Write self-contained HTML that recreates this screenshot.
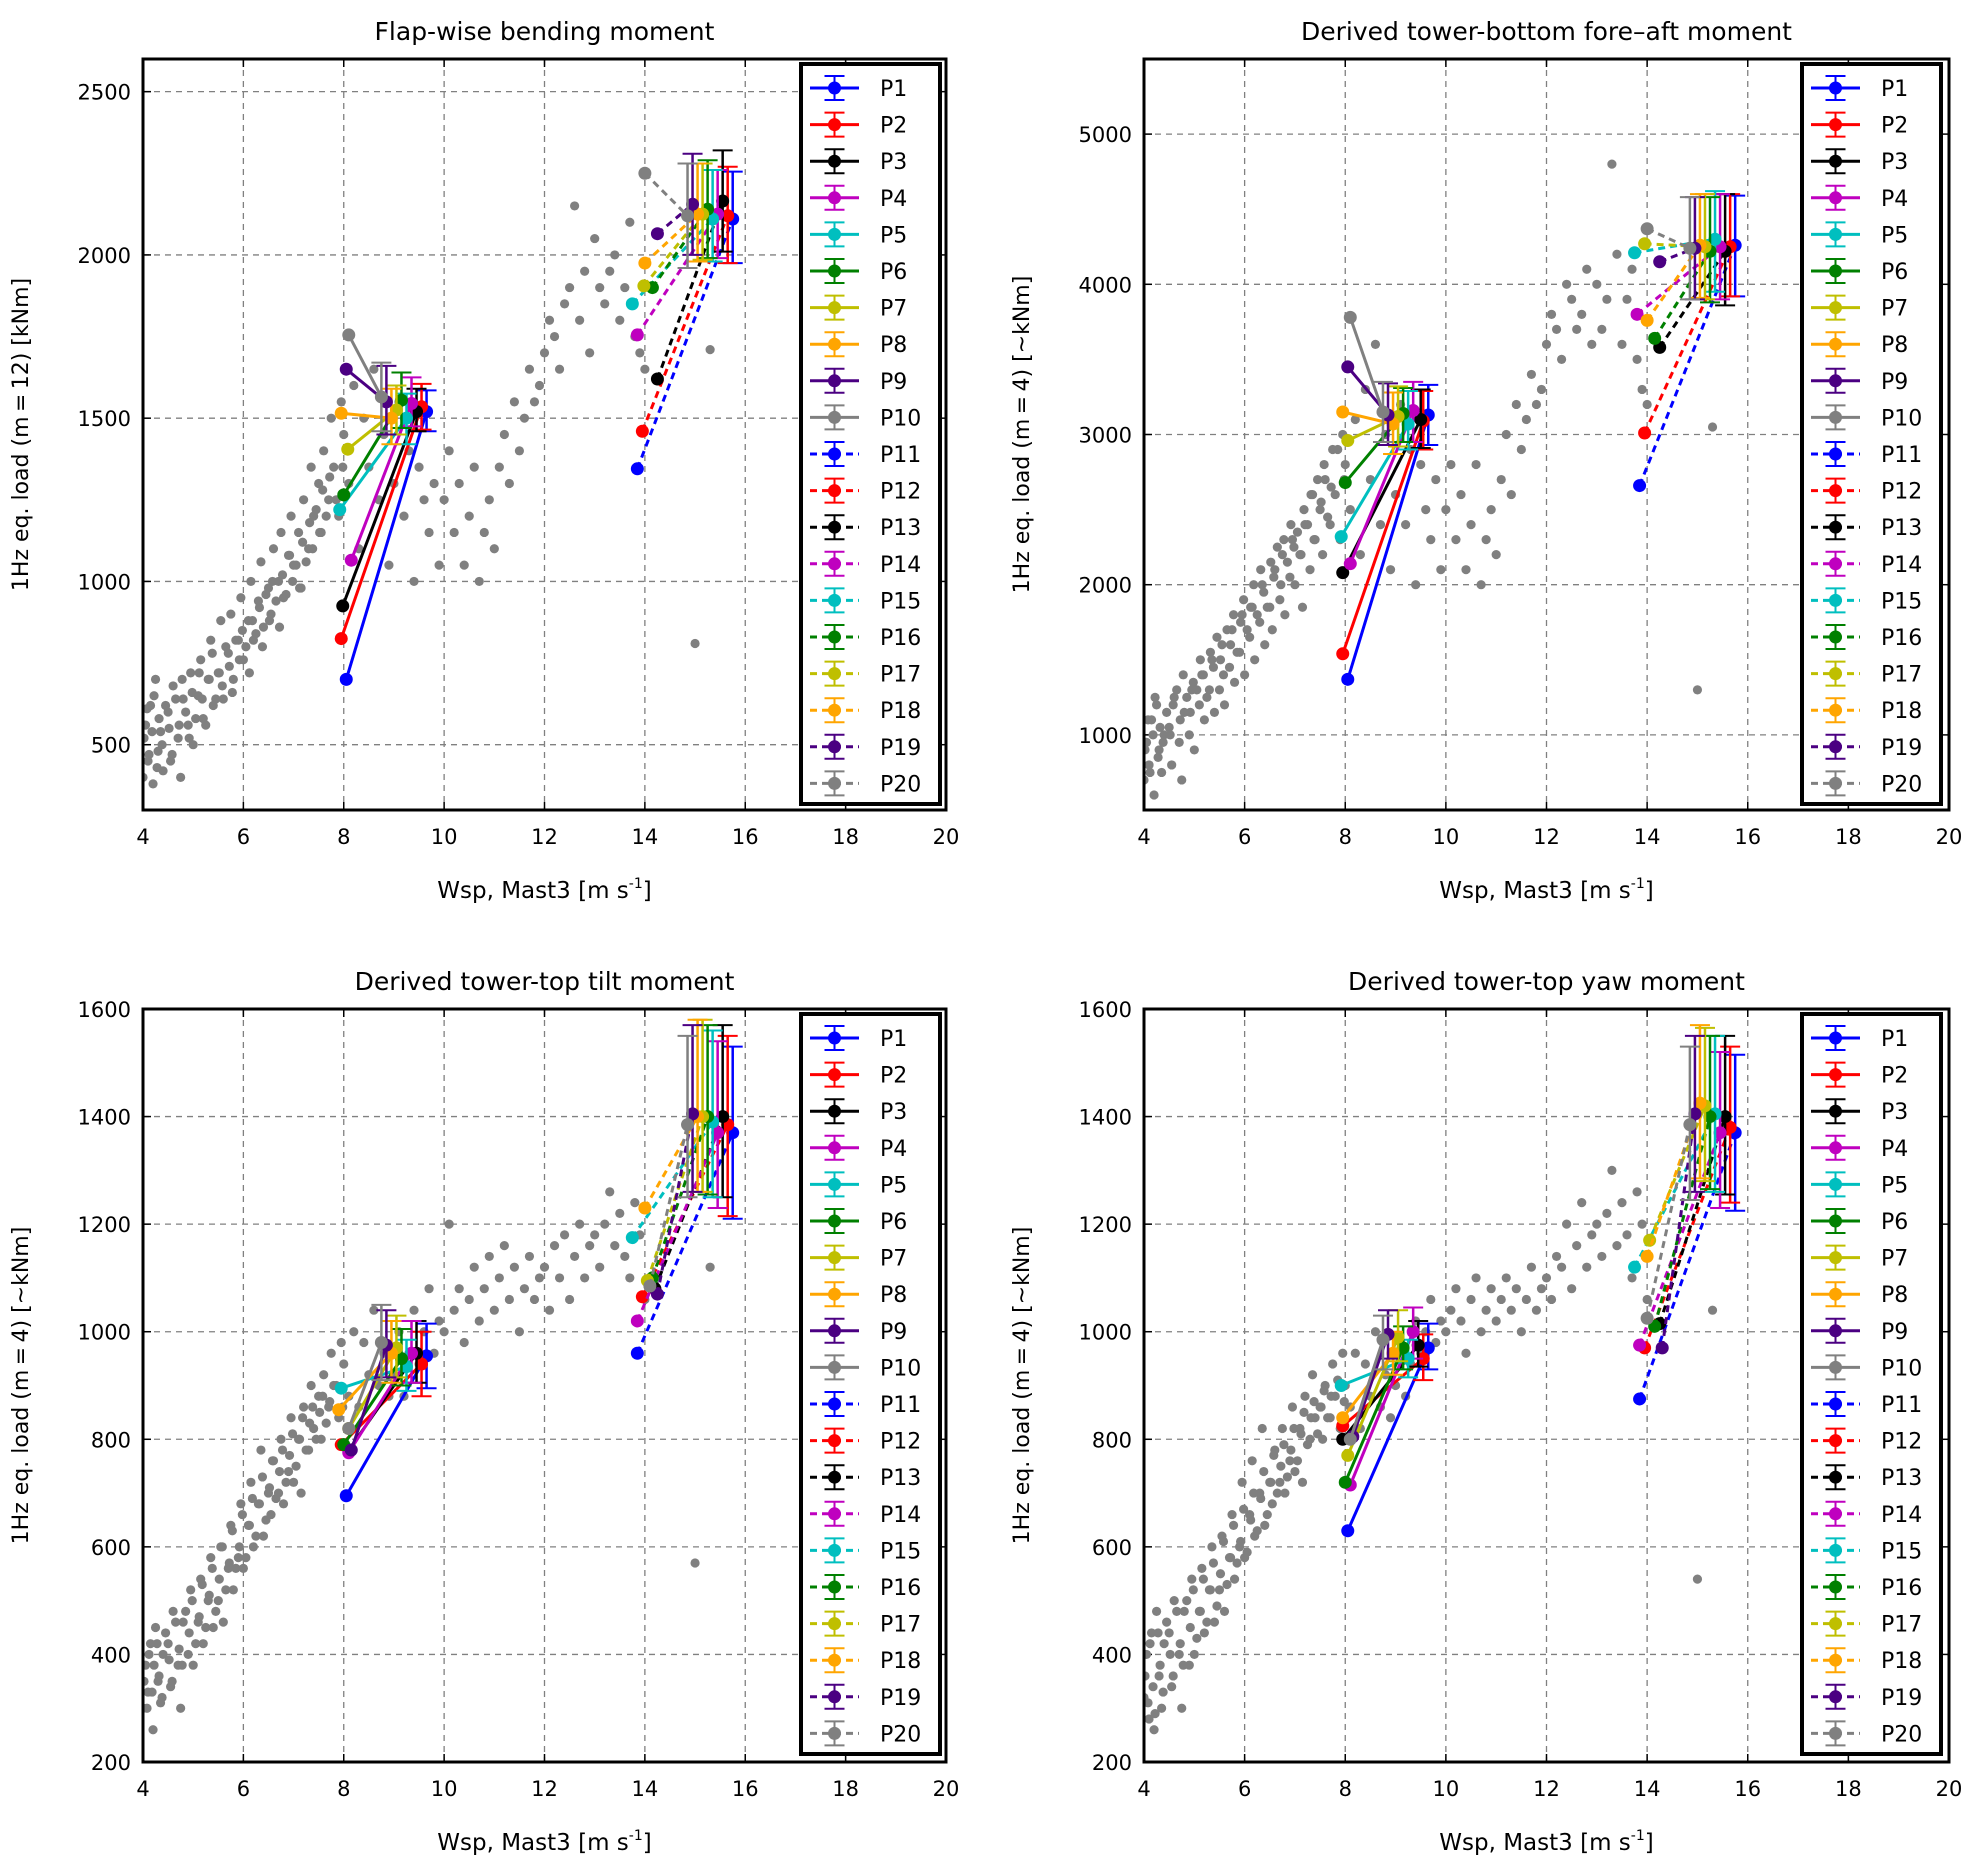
<!DOCTYPE html>
<html><head><meta charset="utf-8"><style>
html,body{margin:0;padding:0;background:#fff;}
svg{display:block;font-family:"DejaVu Sans","Liberation Sans",sans-serif;}
</style></head><body>
<svg id="fig" xmlns="http://www.w3.org/2000/svg" width="1980" height="1871" viewBox="0 0 1980 1871"></svg>
<script>
const windSpeeds = [4.0,4.05,4.1,4.15,4.2,4.25,4.3,4.35,4.4,4.5,4.55,4.6,4.7,4.75,4.8,4.9,4.95,5.0,5.1,5.15,5.2,5.3,5.35,5.4,5.5,5.55,5.6,5.7,5.75,5.8,5.9,5.95,6.0,6.1,6.15,6.2,6.3,6.35,6.4,6.5,6.55,6.6,6.7,6.75,6.8,6.9,6.95,7.0,7.1,7.15,7.2,7.3,7.35,7.4,7.5,7.55,7.6,7.7,7.75,7.8,7.9,7.95,8.0,8.1,8.2,8.3,8.4,8.5,8.6,8.7,8.8,8.9,9.0,9.1,9.2,9.3,9.4,9.5,9.6,9.7,9.8,9.9,10.0,10.1,10.2,10.3,10.4,10.5,10.6,10.7,10.8,10.9,11.0,11.1,11.2,11.3,11.4,11.5,11.6,11.7,11.8,11.9,12.0,12.1,12.2,12.3,12.4,12.5,12.6,12.7,12.8,12.9,13.0,13.1,13.2,13.3,13.4,13.5,13.6,13.7,13.8,13.9,14.0,15.0,15.3];
const flapLoads = [400,560,450,620,380,700,480,540,420, 600,450,680,520,400,640,560,720, 500,650,760,580,700,820,620, 720,880,640,780,900,700,820,950, 760,880,1000,820,940,1060,860,980, 900,1100,1000,1150,950,1080,1200, 1050,1150,980,1250,1100,1350,1200, 1300,1150,1400,1250,1500,1350,1200,1550, 1450,1300,1600,1100,1500,1350,1650,1250,1450,1050, 1300,1550,1200,1400,1000,1350,1250,1150,1300,1050, 1250,1400,1150,1300,1050,1200,1350,1000,1150,1250, 1100,1350,1450,1300,1550,1400,1500,1650,1550,1600, 1700,1800,1750,1650,1850,1900,2150,1800,1950,1700, 2050,1900,1850,1950,2000,1800,1900,2100,1750,1700,1650, 810,1710];
const faLoads = [700,950,800,1100,600,1200,900,750,1000, 1050,800,1250,950,700,1150,1000,1300, 900,1200,1400,1100,1300,1500,1150, 1300,1600,1200,1450,1700,1350,1550,1800, 1400,1650,1850,1500,1750,2000,1600,1850, 1700,2100,1900,2200,1800,2050,2300, 2000,2200,1850,2400,2100,2600,2300, 2500,2200,2700,2400,2900,2600,2300,3000, 2800,2500,3100,2200,3300,2700,3600,2400,3000,2100, 2600,3200,2400,2900,2000,2800,2500,2300,2700,2100, 2500,2800,2300,2600,2100,2400,2800,2000,2300,2500, 2200,2700,3000,2600,3200,2900,3100,3400,3200,3300, 3600,3800,3700,3500,4000,3900,3700,3800,4100,3600, 4000,3700,3900,4800,4200,3600,3900,4100,3500,3300,3200, 1300,3050];
const tiltLoads = [300,380,330,420,260,450,350,310,400, 420,340,480,380,300,460,400,520, 380,460,540,420,500,580,450, 500,600,460,560,640,520,580,680, 560,640,720,600,680,780,620,700, 660,760,700,800,680,740,840, 720,800,700,860,780,900,820, 880,800,920,860,960,900,840,980, 940,880,1000,860,980,920,1040,900,960,880, 920,1000,880,960,1040,940,1000,1080,960,1020, 1000,1200,1040,1080,980,1060,1120,1020,1080,1140, 1040,1100,1160,1060,1120,1000,1080,1140,1060,1100, 1120,1040,1160,1100,1180,1060,1140,1200,1100,1160, 1180,1120,1200,1260,1160,1220,1140,1100,1240,1180,1060, 570,1120];
const yawLoads = [320,400,280,440,260,480,360,300,420, 440,340,500,400,300,480,380,540, 400,480,560,440,520,600,460, 520,620,480,580,660,540,600,720, 580,660,760,620,700,820,640,720, 680,780,720,820,700,760,860, 740,820,720,880,800,920,840, 860,800,900,840,940,880,820,960, 900,860,960,820,940,880,1000,860,920,840, 900,980,880,940,1020,960,1000,1060,980,1020, 1000,1040,1080,1020,960,1060,1100,1000,1040,1080, 1020,1060,1100,1040,1080,1000,1060,1120,1040,1080, 1100,1060,1140,1120,1200,1080,1160,1240,1120,1180, 1200,1140,1220,1300,1160,1240,1180,1100,1260,1200,1060, 540,1040];

// second batch of low-wind samples
const windSpeeds2 = [4.02,4.08,4.12,4.18,4.22,4.28,4.32,4.38,4.45,4.52,4.58,4.65,4.72,4.78,4.85,4.92,4.98,5.05,5.12,5.18,5.25,5.32,5.38,5.45,5.52,5.58,5.65,5.72,5.78,5.85,5.92,5.98,6.05,6.12,6.18,6.25,6.32,6.38,6.45,6.52,6.58,6.65,6.72,6.78,6.85,6.92,6.98,7.05,7.12,7.18,7.25,7.32,7.38,7.45,7.52,7.58,7.65,7.72,7.85,7.98];
const flapLoads2 = [520,610,470,540,650,430,580,500,620,550,470,640,560,700,600,520,660,580,720,640,560,700,780,640,720,680,800,740,660,820,760,850,800,720,880,840,920,800,960,880,1000,940,860,1020,960,1080,1000,1050,980,1120,1060,1180,1100,1220,1150,1280,1200,1320,1250,1350];
const faLoads2 = [900,1100,750,1000,1250,850,1050,950,1150,1000,1200,1300,1100,1400,1250,1150,1350,1300,1500,1400,1250,1550,1450,1650,1500,1400,1700,1600,1800,1550,1750,1900,1700,1850,2000,1800,2100,1950,1850,2150,2050,2250,2000,2300,2150,2400,2250,2350,2200,2500,2400,2600,2300,2700,2550,2800,2450,2650,2900,2700];
const tiltLoads2 = [350,300,400,330,380,420,360,320,440,390,350,460,410,380,480,440,500,420,470,530,450,510,560,480,540,600,520,570,630,560,600,660,580,640,690,620,680,730,650,710,760,690,740,780,720,770,810,750,800,840,780,830,860,800,850,880,830,870,900,860];
const yawLoads2 = [360,310,420,340,290,440,380,330,460,400,360,480,420,380,500,450,520,430,480,540,460,520,570,490,550,610,530,580,640,570,610,670,590,650,700,630,690,740,660,720,770,700,750,790,730,780,820,760,810,850,790,840,870,810,860,890,840,880,910,870];

const seriesNames = ["P1","P2","P3","P4","P5","P6","P7","P8","P9","P10","P11","P12","P13","P14","P15","P16","P17","P18","P19","P20"];
const flapStartX = [8.05,7.95,7.98,8.15,7.92,8.0,8.08,7.95,8.05,8.1,13.85,13.95,14.25,13.85,13.75,14.15,13.98,14.0,14.25,14.0];
const flapStartY = [700,825,925,1065,1220,1265,1405,1515,1650,1755,1345,1460,1620,1755,1850,1900,1905,1975,2065,2250];
const flapEndX = [9.65,9.55,9.45,9.35,9.25,9.15,9.05,8.95,8.85,8.75,15.75,15.65,15.55,15.45,15.35,15.25,15.15,15.05,14.95,14.85];
const flapEndY = [1520,1535,1520,1545,1500,1555,1525,1500,1550,1565,2110,2120,2165,2125,2110,2140,2125,2125,2155,2120];
const flapErrLo = [1460,1465,1460,1475,1420,1470,1450,1420,1450,1460,1975,1975,2010,1990,1980,1990,1985,1980,2000,1960];
const flapErrHi = [1585,1605,1590,1625,1575,1640,1600,1590,1660,1670,2255,2270,2320,2260,2260,2290,2280,2280,2310,2280];

const faStartX = [8.05,7.95,7.95,8.1,7.92,8.0,8.05,7.95,8.05,8.1,13.85,13.95,14.25,13.8,13.75,14.15,13.95,14.0,14.25,14.0];
const faStartY = [1370,1540,2080,2140,2320,2680,2960,3150,3450,3780,2660,3010,3580,3800,4210,3640,4270,3760,4150,4370];
const faEndX = [9.65,9.55,9.5,9.35,9.25,9.15,9.05,8.95,8.85,8.75,15.75,15.65,15.55,15.45,15.35,15.25,15.15,15.05,14.95,14.85];
const faEndY = [3130,3090,3100,3160,3070,3140,3120,3070,3130,3150,4260,4250,4220,4250,4300,4220,4250,4260,4240,4240];
const faErrLo = [2930,2900,2910,2950,2900,2950,2920,2870,2930,2950,3920,3920,3860,3900,3950,3880,3900,3910,3900,3900];
const faErrHi = [3330,3290,3300,3350,3290,3310,3320,3280,3340,3350,4590,4600,4600,4600,4620,4580,4600,4600,4580,4580];

const tiltStartX = [8.05,7.95,8.1,8.1,7.95,8.0,8.1,7.9,8.15,8.1,13.85,13.95,14.2,13.85,13.75,14.15,14.05,14.0,14.25,14.1];
const tiltStartY = [695,790,780,775,895,790,820,855,780,820,960,1065,1080,1020,1175,1100,1095,1230,1070,1085];
const tiltEndX = [9.65,9.55,9.45,9.35,9.25,9.15,9.05,8.95,8.85,8.75,15.75,15.65,15.55,15.45,15.35,15.25,15.15,15.05,14.95,14.85];
const tiltEndY = [955,940,960,960,935,950,970,960,975,980,1370,1385,1400,1370,1390,1400,1400,1400,1405,1385];
const tiltErrLo = [895,880,905,905,890,900,915,905,915,910,1210,1215,1250,1230,1250,1255,1260,1260,1260,1250];
const tiltErrHi = [1015,1000,1020,1020,985,1005,1030,1020,1040,1050,1530,1550,1570,1540,1560,1570,1580,1580,1570,1550];

const yawStartX = [8.05,7.95,7.95,8.1,7.92,8.0,8.05,7.95,8.15,8.1,13.85,13.95,14.25,13.85,13.75,14.15,14.05,14.0,14.3,14.0];
const yawStartY = [630,825,800,715,900,720,770,840,805,800,875,970,1015,975,1120,1010,1170,1140,970,1025];
const yawEndX = [9.65,9.55,9.45,9.35,9.25,9.15,9.05,8.95,8.85,8.75,15.75,15.65,15.55,15.45,15.35,15.25,15.15,15.05,14.95,14.85];
const yawEndY = [970,950,975,1000,950,970,990,960,995,985,1370,1380,1400,1370,1405,1400,1420,1425,1405,1385];
const yawErrLo = [930,910,935,950,915,930,945,920,950,930,1225,1240,1255,1230,1260,1265,1280,1285,1260,1245];
const yawErrHi = [1015,995,1020,1045,985,1010,1040,1000,1040,1030,1515,1530,1550,1520,1550,1550,1565,1570,1550,1530];

const xTicks = [4,6,8,10,12,14,16,18,20];
const flapTicks = [500,1000,1500,2000,2500];
const faTicks = [1000,2000,3000,4000,5000];
const towerTicks = [200,400,600,800,1000,1200,1400,1600];

const COLORS = ["#0000ff","#ff0000","#000000","#bf00bf","#00bfbf","#008000","#bfbf00","#ffa500","#4b0082","#808080"];
const NS = "http://www.w3.org/2000/svg";
const svg = document.getElementById("fig");
function mk(tag, attrs, parent){const e=document.createElementNS(NS,tag);for(const k in attrs)e.setAttribute(k,attrs[k]);(parent||svg).appendChild(e);return e;}

const panels = [
 {key:"flap",title:"Flap-wise bending moment",ylabel:"1Hz eq. load (m\u2009=\u200912) [kNm]",L:143,R:946,T:59,B:810,ymin:300,ymax:2600,ticks:flapTicks,sy:flapLoads,sy2:flapLoads2,
  sx0:flapStartX,sy0:flapStartY,sx1:flapEndX,sy1:flapEndY,elo:flapErrLo,ehi:flapErrHi},
 {key:"fore-aft",title:"Derived tower-bottom fore\u2013aft moment",ylabel:"1Hz eq. load (m\u2009=\u20094) [~kNm]",L:1144,R:1949,T:59,B:810,ymin:500,ymax:5500,ticks:faTicks,sy:faLoads,sy2:faLoads2,
  sx0:faStartX,sy0:faStartY,sx1:faEndX,sy1:faEndY,elo:faErrLo,ehi:faErrHi},
 {key:"tilt",title:"Derived tower-top tilt moment",ylabel:"1Hz eq. load (m\u2009=\u20094) [~kNm]",L:143,R:946,T:1009,B:1762,ymin:200,ymax:1600,ticks:towerTicks,sy:tiltLoads,sy2:tiltLoads2,
  sx0:tiltStartX,sy0:tiltStartY,sx1:tiltEndX,sy1:tiltEndY,elo:tiltErrLo,ehi:tiltErrHi},
 {key:"yaw",title:"Derived tower-top yaw moment",ylabel:"1Hz eq. load (m\u2009=\u20094) [~kNm]",L:1144,R:1949,T:1009,B:1762,ymin:200,ymax:1600,ticks:towerTicks,sy:yawLoads,sy2:yawLoads2,
  sx0:yawStartX,sy0:yawStartY,sx1:yawEndX,sy1:yawEndY,elo:yawErrLo,ehi:yawErrHi}
];

panels.forEach((p,pi)=>{
  const g = mk("g",{});
  
  
  const xs = v => p.L + (v-4)/16*(p.R-p.L);
  const ys = v => p.B - (v-p.ymin)/(p.ymax-p.ymin)*(p.B-p.T);
  const clipId = "clip"+pi;
  const cp = mk("clipPath",{id:clipId},g); mk("rect",{x:p.L,y:p.T,width:p.R-p.L,height:p.B-p.T},cp);

  const t = mk("text",{x:(p.L+p.R)/2,y:p.T-19,"text-anchor":"middle","font-size":"25"},g); t.textContent=p.title;
  
  

  const grid = mk("g",{stroke:"#808080","stroke-width":"1.3","stroke-dasharray":"6,5"},g);
  
  
  xTicks.forEach(v=>{ if(v>4&&v<20) mk("line",{x1:xs(v),x2:xs(v),y1:p.T,y2:p.B},grid); });
  p.ticks.forEach(v=>{ if(v>p.ymin&&v<p.ymax) mk("line",{x1:p.L,x2:p.R,y1:ys(v),y2:ys(v)},grid); });

  xTicks.forEach(v=>{
    mk("line",{x1:xs(v),x2:xs(v),y1:p.B,y2:p.B-8,stroke:"#000","stroke-width":"1.5"},g);
    mk("line",{x1:xs(v),x2:xs(v),y1:p.T,y2:p.T+8,stroke:"#000","stroke-width":"1.5"},g);
    const tl = mk("text",{x:xs(v),y:p.B+34,"text-anchor":"middle","font-size":"21"},g); tl.textContent=v;
    
    
  });
  p.ticks.forEach(v=>{
    mk("line",{x1:p.L,x2:p.L+8,y1:ys(v),y2:ys(v),stroke:"#000","stroke-width":"1.5"},g);
    mk("line",{x1:p.R,x2:p.R-8,y1:ys(v),y2:ys(v),stroke:"#000","stroke-width":"1.5"},g);
    const tl = mk("text",{x:p.L-12,y:ys(v)+8,"text-anchor":"end","font-size":"21"},g); tl.textContent=v;
    
    
  });

  const xl = mk("text",{x:(p.L+p.R)/2,y:p.B+88,"text-anchor":"middle","font-size":"23"},g);
  xl.innerHTML = 'Wsp, Mast3 [m s<tspan dy="-10" font-size="14">-1</tspan><tspan dy="10">]</tspan>';
  
  
  const ylx = p.L-115, yly=(p.T+p.B)/2;
  const yl = mk("text",{x:ylx,y:yly,"text-anchor":"middle","font-size":"22",transform:`rotate(-90 ${ylx} ${yly})`},g); yl.textContent=p.ylabel;
  
  

  const plot = mk("g",{"clip-path":`url(#${clipId})`},g);
  const sc = mk("g",{fill:"#808080"},plot);
  
  
  windSpeeds.forEach((w,i)=>{
    const c = mk("circle",{cx:xs(w),cy:ys(p.sy[i]),r:4.6},sc);
    
    
  });
  windSpeeds2.forEach((w,i)=>{
    const c = mk("circle",{cx:xs(w),cy:ys(p.sy2[i]),r:4.6},sc);
    
    
  });
  seriesNames.forEach((nm,i)=>{
    const col = COLORS[i%10], dashed = i>=10;
    const sg = mk("g",{},plot);
    
    
    const x0=xs(p.sx0[i]),y0=ys(p.sy0[i]),x1=xs(p.sx1[i]),y1=ys(p.sy1[i]);
    const ln = mk("line",{x1:x0,y1:y0,x2:x1,y2:y1,stroke:col,"stroke-width":"3"},sg);
    if(dashed) ln.setAttribute("stroke-dasharray","7,5");
    const elo=ys(p.elo[i]), ehi=ys(p.ehi[i]);
    mk("line",{x1:x1,x2:x1,y1:elo,y2:ehi,stroke:col,"stroke-width":"2.5"},sg);
    mk("line",{x1:x1-10,x2:x1+10,y1:elo,y2:elo,stroke:col,"stroke-width":"2"},sg);
    mk("line",{x1:x1-10,x2:x1+10,y1:ehi,y2:ehi,stroke:col,"stroke-width":"2"},sg);
    mk("circle",{cx:x0,cy:y0,r:6.5,fill:col},sg);
    mk("circle",{cx:x1,cy:y1,r:6.5,fill:col},sg);
  });

  const fr = mk("rect",{x:p.L,y:p.T,width:p.R-p.L,height:p.B-p.T,fill:"none",stroke:"#000","stroke-width":"3"},g);
  
  

  const lg = mk("g",{},g);
  
  
  const lx = p.L+658, ly = p.T+5, lw = 139, lh = 740;
  mk("rect",{x:lx,y:ly,width:lw,height:lh,fill:"#fff",stroke:"#000","stroke-width":"4"},lg);
  seriesNames.forEach((nm,i)=>{
    const col = COLORS[i%10], dashed = i>=10;
    const cy = ly+24+i*36.6;
    const e = mk("g",{},lg);
    
    
    const ln = mk("line",{x1:lx+9,x2:lx+58,y1:cy,y2:cy,stroke:col,"stroke-width":"3"},e);
    if(dashed) ln.setAttribute("stroke-dasharray","7,5");
    mk("line",{x1:lx+33.5,x2:lx+33.5,y1:cy-12,y2:cy+12,stroke:col,"stroke-width":"2"},e);
    mk("line",{x1:lx+23.5,x2:lx+43.5,y1:cy-12,y2:cy-12,stroke:col,"stroke-width":"2"},e);
    mk("line",{x1:lx+23.5,x2:lx+43.5,y1:cy+12,y2:cy+12,stroke:col,"stroke-width":"2"},e);
    mk("circle",{cx:lx+33.5,cy:cy,r:6.5,fill:col},e);
    const tx = mk("text",{x:lx+79,y:cy+8,"font-size":"22"},e); tx.textContent=nm;
  });
});
</script>
</body></html>
